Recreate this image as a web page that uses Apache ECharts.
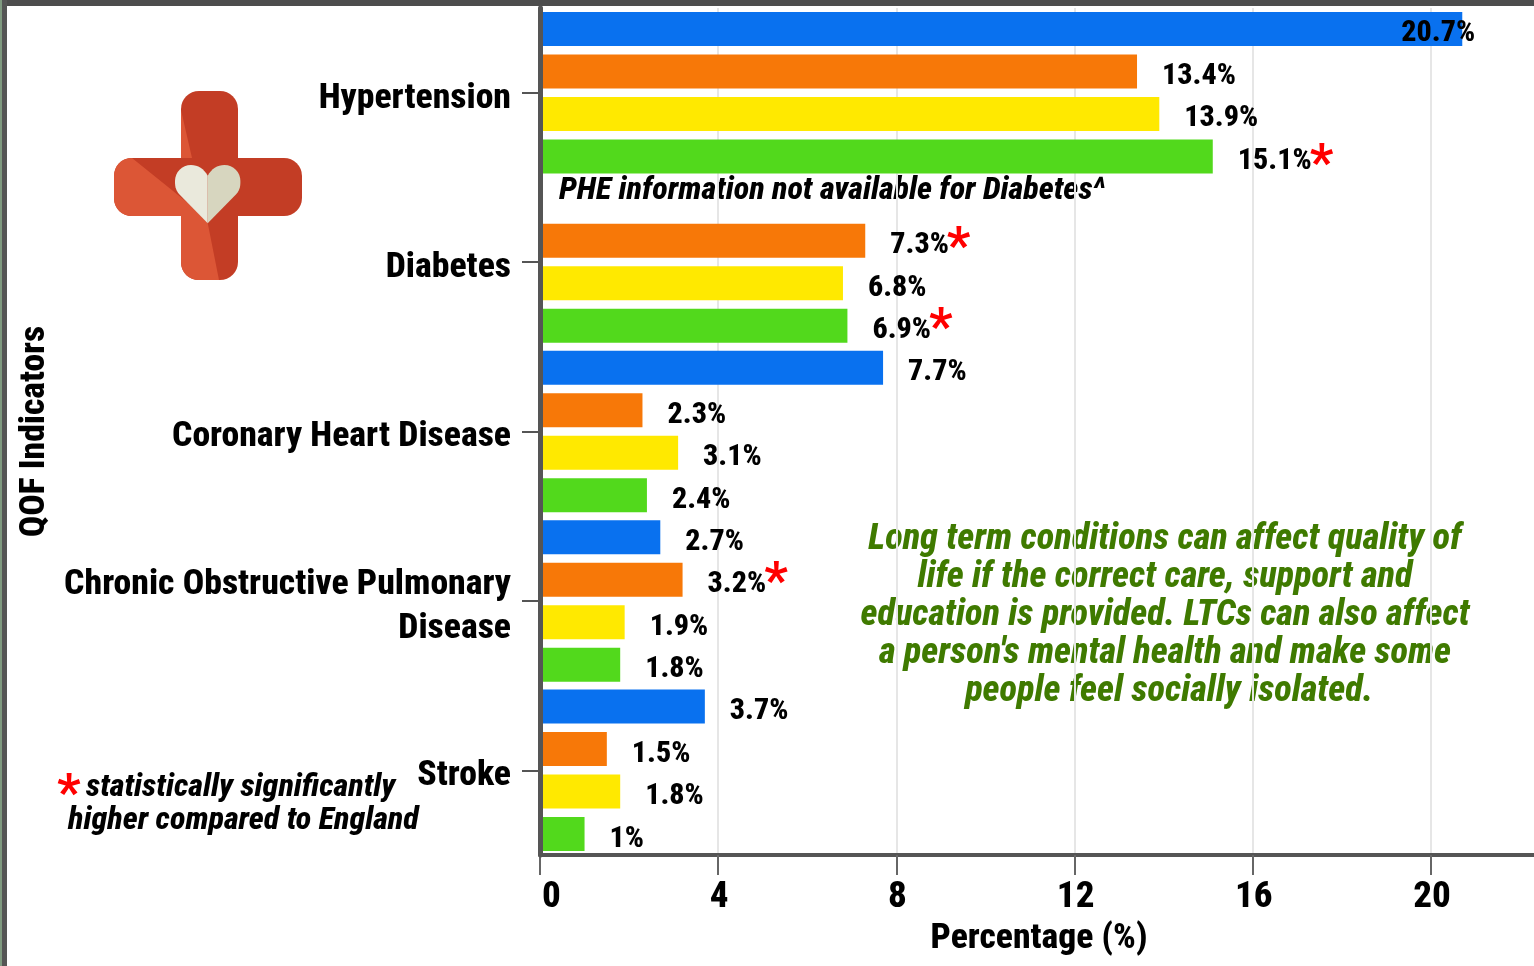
<!DOCTYPE html>
<html>
<head>
<meta charset="utf-8">
<style>
  html, body { margin: 0; padding: 0; background: #fff; }
  #main { width: 1534px; height: 966px; }
</style>
<script src="https://cdn.jsdelivr.net/npm/echarts@6/dist/echarts.min.js"></script>
</head>
<body>
<div id="main"></div>
<script>
const categories = ['Hypertension', 'Diabetes', 'Coronary Heart Disease', 'Chronic Obstructive Pulmonary\nDisease', 'Stroke'];
const blueValues = [20.7, null, 7.7, 2.7, 3.7];
const orangeValues = [13.4, 7.3, 2.3, 3.2, 1.5];
const yellowValues = [13.9, 6.8, 3.1, 1.9, 1.8];
const greenValues = [15.1, 6.9, 2.4, 1.8, 1];
const orangeStars = [null, 's2', null, 's3', null];
const greenStars = ['s1', 's3', null, null, null];
const xTicks = { min: 0, max: 22.31, interval: 4 };

const condensed = '800 condensed';
const font = 'Roboto';

echarts.graphic.registerShape('logoShade', echarts.graphic.extendPath('M132 158 C120 158 114 167 114 176 L114 198 C114 209 122 216 132 216 L181 216 L181 262 C181 273 189 280 199 280 L219 280 L207.7 223 L188 203 Z', {}));
echarts.graphic.registerShape('heartLeft', echarts.graphic.extendPath('M207.7 223.3 L179 194 C175 189 175 185 175 181 C175 172 182 165 191 165 C198 165 204 169 207.7 175.7 Z', {}));
echarts.graphic.registerShape('heartRight', echarts.graphic.extendPath('M207.7 223.3 L236.4 194 C240.4 189 240.4 185 240.4 181 C240.4 172 233.4 165 224.4 165 C217.4 165 211.4 169 207.7 175.7 Z', {}));

const starStyle = { fontFamily: font, fontWeight: 'bold', fontSize: 52, color: '#ff0000' };

function makeSeries(name, color, values, stars) {
  return {
    name: name,
    type: 'bar',
    barWidth: 34,
    barGap: '25%',
    itemStyle: { color: color },
    label: {
      show: true,
      position: 'right',
      distance: 25,
      offset: [0, 5],
      fontFamily: font,
      fontWeight: condensed,
      fontSize: 30,
      color: '#000',
      formatter: p => {
        const star = stars && stars[p.dataIndex];
        return star ? `{v|${p.value}%}{${star}|*}` : `{v|${p.value}%}`;
      },
      rich: {
        v: { fontFamily: font, fontWeight: condensed, fontSize: 30, color: '#000' },
        s1: { ...starStyle, padding: [12, 0, 0, -2] },
        s2: { ...starStyle, padding: [8, 0, 0, -2] },
        s3: { ...starStyle, padding: [0, 0, 0, -2] }
      }
    },
    // the longest bar has its label pulled back over the bar end
    data: values.map(v => v === 20.7 ? { value: v, label: { distance: -61 } } : v)
  };
}

const chart = echarts.init(document.getElementById('main'), null, { renderer: 'canvas' });

const logoCol1 = '#c33d25';
const logoCol2 = '#dc5636';

chart.setOption({
  animation: false,
  backgroundColor: '#fff',
  grid: { left: 540, right: 0, top: 8, bottom: 111, containLabel: false },
  xAxis: {
    type: 'value',
    min: xTicks.min,
    max: xTicks.max,
    interval: xTicks.interval,
    name: 'Percentage (%)',
    nameLocation: 'middle',
    nameGap: 64,
    nameTextStyle: { fontFamily: font, fontWeight: condensed, fontSize: 35.6, color: '#000', padding: [0, 0, 0, 4] },
    axisLine: { show: true, lineStyle: { color: '#555', width: 4 } },
    axisTick: { show: true, length: 20, lineStyle: { color: '#666', width: 2 } },
    axisLabel: {
      showMaxLabel: false,
      alignMinLabel: 'left',
      margin: 24,
      formatter: v => `{t|${v}}`,
      rich: { t: { fontFamily: font, fontWeight: condensed, fontSize: 37, color: '#000', padding: [0, 0, 0, 2] } }
    },
    splitLine: { show: true, showMaxLine: false, lineStyle: { color: '#e6e6e6', width: 2 } }
  },
  yAxis: {
    type: 'category',
    inverse: true,
    data: categories,
    name: 'QOF Indicators',
    nameLocation: 'middle',
    nameGap: 487,
    nameRotate: 90,
    nameTextStyle: { fontFamily: font, fontWeight: condensed, fontSize: 35.6, color: '#000' },
    axisLine: { show: true, lineStyle: { color: '#555', width: 5 } },
    axisTick: { show: true, alignWithLabel: true, length: 18, lineStyle: { color: '#555', width: 2 } },
    axisLabel: {
      margin: 29,
      formatter: v => ['{sp| }', ...v.split('\n').map(l => `{c|${l}}`)].join('\n'),
      rich: {
        sp: { fontSize: 1, lineHeight: 12, height: 12 },
        c: { fontFamily: font, fontWeight: condensed, fontSize: 35.7, lineHeight: 44, color: '#000', align: 'right' }
      }
    },
    splitLine: { show: false },
    z: 10
  },
  series: [
    makeSeries('Blue', '#0971ef', blueValues, null),
    makeSeries('Orange', '#f77808', orangeValues, orangeStars),
    makeSeries('Yellow', '#ffe900', yellowValues, null),
    makeSeries('Green', '#52d91c', greenValues, greenStars)
  ],
  graphic: [
    // page frame
    { type: 'rect', shape: { x: 0, y: 0, width: 1534, height: 6 }, style: { fill: '#4d4d4d' } },
    { type: 'rect', shape: { x: 0, y: 0, width: 7, height: 966 }, style: { fill: '#555' } },
    { type: 'rect', shape: { x: 0, y: 0, width: 2, height: 966 }, style: { fill: '#7f9a80' } },
    // logo cross
    { type: 'rect', shape: { x: 181, y: 91, width: 57, height: 189, r: 18 }, style: { fill: logoCol1 } },
    { type: 'polygon', shape: { points: [[181, 110], [181, 158], [192, 158]] }, style: { fill: logoCol2 } },
    { type: 'rect', shape: { x: 114, y: 158, width: 188, height: 58, r: 18 }, style: { fill: logoCol1 } },
    { type: 'logoShade', style: { fill: logoCol2 } },
    { type: 'heartLeft', style: { fill: '#eae9dc' } },
    { type: 'heartRight', style: { fill: '#d7d6bf' } },
    // notes
    { type: 'text', x: 559, y: 191, style: { text: 'PHE information not available for Diabetes^', font: 'italic 800 condensed 32.2px Roboto', fill: '#000', verticalAlign: 'middle' } },
    { type: 'text', x: 1165, y: 616, style: { text: "Long term conditions can affect quality of\nlife if the correct care, support and\neducation is provided. LTCs can also affect\na person's mental health and make some\n people feel socially isolated.", font: 'italic 800 condensed 36.4px Roboto', fill: '#3f7a00', align: 'center', verticalAlign: 'middle', lineHeight: 38 } },
    { type: 'text', x: 57, y: 797, style: { text: '*', font: 'bold 52px Roboto', fill: '#ff0000', verticalAlign: 'middle' } },
    { type: 'text', x: 86, y: 788, style: { text: 'statistically significantly', font: 'italic 800 condensed 32.2px Roboto', fill: '#000', verticalAlign: 'middle' } },
    { type: 'text', x: 68, y: 821, style: { text: 'higher compared to England', font: 'italic 800 condensed 32.2px Roboto', fill: '#000', verticalAlign: 'middle' } }
  ]
});
</script>
</body>
</html>
